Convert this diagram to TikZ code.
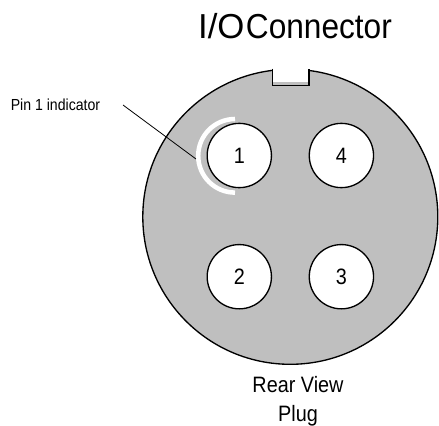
\documentclass[tikz,border=0pt]{standalone}
\usepackage{fontspec}
\setmainfont{Liberation Sans}
\newcommand{\squeezed}[1]{\scalebox{0.89}[1]{#1}}
\tikzset{x=0.75pt,y=-0.75pt,
 pinc/.style={circle,draw=black,fill=white,line width=1pt,minimum size=48.2pt,inner sep=0pt,font=\fontsize{16.7pt}{20pt}\selectfont},
 lab/.style={inner sep=0pt,align=center,xscale=0.89,anchor=base,font=\fontsize{16.7pt}{21.4pt}\selectfont},
 body/.style={draw=black,fill=black!25,line width=1pt}}
\begin{document}
\begin{tikzpicture}
\useasboundingbox (0,0) rectangle (439,425);
\draw[body] (290.3,216.8) circle[radius=147.5];
\fill[white] (272.5,60) rectangle (309,82);
\draw[line width=1pt] (272.5,68.5) -- (272.5,85.7) -- (309,85.7) -- (309,68.5);
\draw[white,line width=3.4pt] (235,119) arc[start angle=-90,end angle=-270,radius=36.8];
\node[pinc] (p1) at (239.3,155.5) {\squeezed{1}};
\node[pinc] (p4) at (341.4,155.5) {\squeezed{4}};
\node[pinc] (p2) at (239.3,276.7) {\squeezed{2}};
\node[pinc] (p3) at (341.4,276.7) {\squeezed{3}};
\node[lab,xscale=0.99,font=\fontsize{12pt}{14pt}\selectfont] (ind) at (55.5,110) {Pin 1 indicator};
\coordinate (a) at (123,105);
\coordinate (b) at (196,159);
\draw[line width=0.6pt] (a) -- (b);
\node[lab,xscale=1.025,font=\fontsize{26pt}{30pt}\selectfont] (title) at (295,38) {\spaceskip=1.2pt\relax\scalebox{1.1}[1]{I/O} Connector};
\node[lab] (rear) at (298,392.7) {Rear View};
\node[lab] (plug) at (298,421.3) {Plug};
\end{tikzpicture}
\end{document}
